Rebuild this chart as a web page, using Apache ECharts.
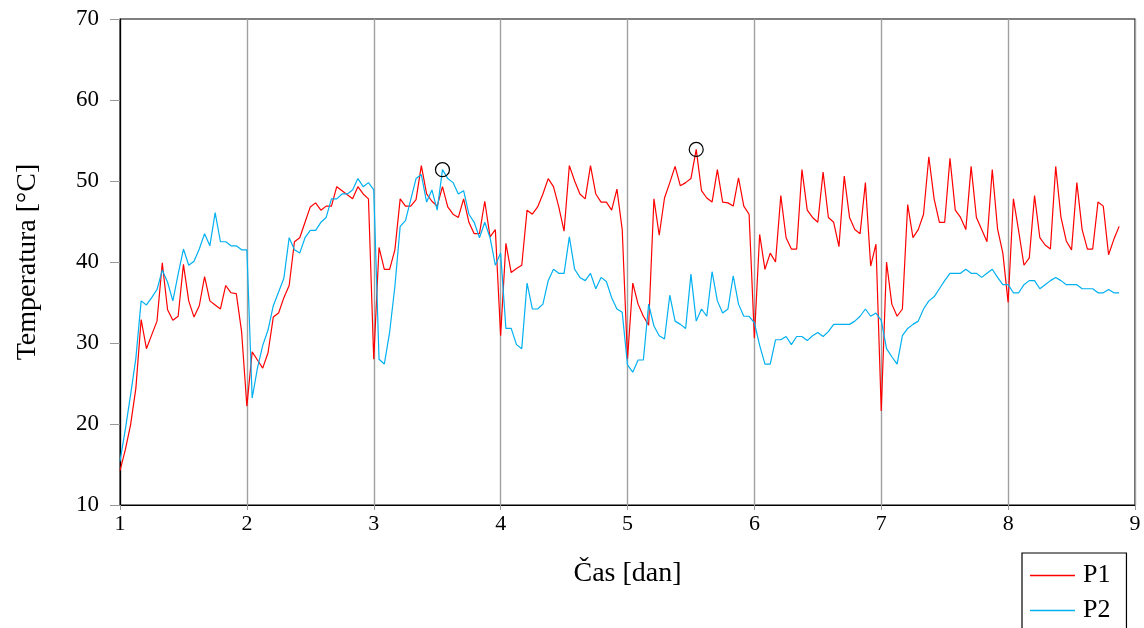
<!DOCTYPE html>
<html>
<head>
<meta charset="utf-8">
<script src="https://cdn.jsdelivr.net/npm/echarts@6.0.0/dist/echarts.min.js"></script>
<style>
  html, body { margin: 0; padding: 0; background: #fff; }
  #chart { width: 1144px; height: 628px; }
</style>
</head>
<body>
<div id="chart"></div>
<script>
// hourly samples, day 1 .. ~8.9
const startDay = 1
const hoursPerDay = 24
const xTicks = [1, 2, 3, 4, 5, 6, 7, 8, 9]
const yTicks = [10, 20, 30, 40, 50, 60, 70]

const p1 = [
  14.25, 16.8, 19.9, 24.4, 32.9, 29.3, 31.0, 32.7, 39.9, 34.1, 32.8, 33.3,
  39.7, 35.2, 33.2, 34.6, 38.2, 35.2, 34.7, 34.2, 37.1, 36.2, 36.1, 31.4,
  22.2, 28.9, 27.9, 26.9, 28.8, 33.2, 33.7, 35.6, 37.1, 42.5, 43.0, 44.9,
  46.8, 47.3, 46.4, 46.9, 46.9, 49.3, 48.8, 48.3, 47.8, 49.3, 48.4, 47.8,
  28.0, 41.8, 39.1, 39.1, 41.5, 47.8, 46.9, 46.9, 47.7, 51.9, 48.4, 47.5,
  46.9, 49.3, 46.8, 45.9, 45.5, 47.8, 44.9, 43.5, 43.5, 47.5, 43.1, 44.0,
  30.9, 42.3, 38.7, 39.2, 39.6, 46.4, 45.9, 46.8, 48.4, 50.3, 49.3, 46.8,
  43.8, 51.9, 50.0, 48.4, 47.8, 51.9, 48.4, 47.4, 47.4, 46.4, 49.0, 44.0,
  28.0, 37.4, 34.8, 33.3, 32.2, 47.8, 43.3, 47.9, 49.8, 51.8, 49.4, 49.8,
  50.3, 53.9, 48.8, 47.9, 47.4, 51.4, 47.4, 47.3, 46.9, 50.4, 46.9, 45.9,
  30.6, 43.4, 39.1, 41.1, 40.0, 48.2, 43.0, 41.6, 41.6, 51.4, 46.4, 45.5,
  44.9, 51.1, 45.5, 44.9, 41.9, 50.6, 45.5, 44.0, 43.5, 49.8, 39.5, 42.2,
  21.6, 40.0, 34.8, 33.3, 34.2, 47.1, 43.0, 44.0, 45.9, 53.0, 47.8, 44.9,
  44.9, 52.8, 46.4, 45.5, 44.0, 51.8, 45.5, 44.0, 42.5, 51.4, 44.1, 41.1,
  35.0, 47.8, 43.8, 39.6, 40.5, 48.2, 43.0, 42.1, 41.6, 51.8, 45.5, 42.6,
  41.5, 49.8, 44.0, 41.6, 41.6, 47.4, 46.9, 40.9, 42.8, 44.4
]

const p2 = [
  15.4, 19.3, 23.6, 28.1, 35.2, 34.7, 35.6, 36.6, 39.0, 37.5, 35.2, 38.5,
  41.6, 39.6, 40.1, 41.6, 43.5, 42.0, 46.1, 42.5, 42.5, 42.0, 42.0, 41.5,
  41.5, 23.2, 26.9, 29.7, 31.6, 34.6, 36.3, 38.0, 43.0, 41.5, 41.1, 43.0,
  43.9, 43.9, 44.9, 45.5, 47.8, 47.8, 48.4, 48.4, 48.9, 50.3, 49.3, 49.8,
  48.9, 28.0, 27.4, 31.3, 37.0, 44.4, 45.1, 47.7, 50.3, 50.8, 47.4, 48.9,
  46.4, 51.4, 50.3, 49.8, 48.4, 48.8, 45.9, 44.9, 43.0, 44.9, 43.0, 39.6,
  41.1, 31.8, 31.8, 29.8, 29.3, 37.4, 34.2, 34.2, 34.8, 37.7, 39.1, 38.6,
  38.6, 43.1, 39.1, 38.1, 37.7, 38.6, 36.7, 38.1, 37.6, 35.6, 34.2, 33.8,
  27.3, 26.4, 27.9, 27.9, 34.8, 32.1, 30.9, 30.5, 35.9, 32.7, 32.3, 31.8,
  38.5, 32.7, 34.2, 33.3, 38.8, 35.2, 33.7, 34.2, 38.3, 34.8, 33.3, 33.3,
  32.5, 29.7, 27.4, 27.4, 30.4, 30.4, 30.8, 29.8, 30.8, 30.8, 30.3, 30.9,
  31.3, 30.8, 31.4, 32.3, 32.3, 32.3, 32.3, 32.7, 33.3, 34.2, 33.3, 33.7,
  32.8, 29.3, 28.3, 27.4, 30.9, 31.8, 32.3, 32.7, 34.2, 35.2, 35.7, 36.7,
  37.7, 38.6, 38.6, 38.6, 39.1, 38.6, 38.6, 38.1, 38.6, 39.1, 38.1, 37.2,
  37.2, 36.2, 36.2, 37.2, 37.7, 37.7, 36.7, 37.2, 37.7, 38.1, 37.7, 37.2,
  37.2, 37.2, 36.7, 36.7, 36.7, 36.2, 36.2, 36.6, 36.2, 36.2
]

function toPairs(vals) {
  return vals.map((v, i) => [startDay + i / hoursPerDay, v])
}

const serif = 'Liberation Serif'

const chart = echarts.init(document.getElementById('chart'), null, { renderer: 'canvas' })

const maxMark = {
  symbol: 'circle',
  symbolSize: 14,
  itemStyle: { color: 'rgba(0,0,0,0)', borderColor: '#000', borderWidth: 1.2 },
  label: { show: false },
  data: [{ type: 'max' }]
}

const option = {
  animation: false,
  backgroundColor: '#fff',
  grid: {
    left: 120, right: 9, top: 19, bottom: 123,
    show: true, borderColor: '#000', borderWidth: 1.2
  },
  legend: {
    orient: 'vertical',
    left: 1022, top: 553,
    width: 107, height: 110,
    padding: [9, 16, 8, 8],
    itemGap: 8,
    icon: 'rect',
    itemWidth: 45, itemHeight: 1.3,
    borderColor: '#000', borderWidth: 1.2,
    textStyle: { fontFamily: serif, fontSize: 26, color: '#000', lineHeight: 27, padding: [0, 0, 0, 3] },
    data: ['P1', 'P2']
  },
  xAxis: {
    type: 'value',
    min: xTicks[0], max: xTicks[xTicks.length - 1], interval: 1,
    name: 'Čas [dan]',
    nameLocation: 'middle',
    nameGap: 55,
    nameTextStyle: { fontFamily: serif, fontSize: 28, color: '#000' },
    axisLine: { lineStyle: { color: '#000', width: 1.2 } },
    axisTick: { length: 5, lineStyle: { color: '#999' } },
    axisLabel: { fontFamily: serif, fontSize: 22, color: '#000', margin: 8 },
    splitLine: { show: true, lineStyle: { color: '#a0a0a0', width: 1.4 } }
  },
  yAxis: {
    type: 'value',
    min: yTicks[0], max: yTicks[yTicks.length - 1], interval: 10,
    name: 'Temperatura [°C]',
    nameLocation: 'middle',
    nameGap: 78,
    nameTextStyle: { fontFamily: serif, fontSize: 28, color: '#000' },
    axisLine: { show: true, lineStyle: { color: '#000', width: 1.2 } },
    axisTick: { show: true, length: 10, lineStyle: { color: '#999' } },
    axisLabel: { fontFamily: serif, fontSize: 23, color: '#000', margin: 21 },
    splitLine: { show: false }
  },
  series: [
    {
      name: 'P1',
      type: 'line',
      data: toPairs(p1),
      symbol: 'none',
      lineStyle: { color: '#ff0000', width: 1.2 },
      itemStyle: { color: '#ff0000' },
      markPoint: maxMark
    },
    {
      name: 'P2',
      type: 'line',
      data: toPairs(p2),
      symbol: 'none',
      lineStyle: { color: '#00b0f0', width: 1.2 },
      itemStyle: { color: '#00b0f0' },
      markPoint: maxMark
    }
  ]
}

chart.setOption(option)
</script>
</body>
</html>
